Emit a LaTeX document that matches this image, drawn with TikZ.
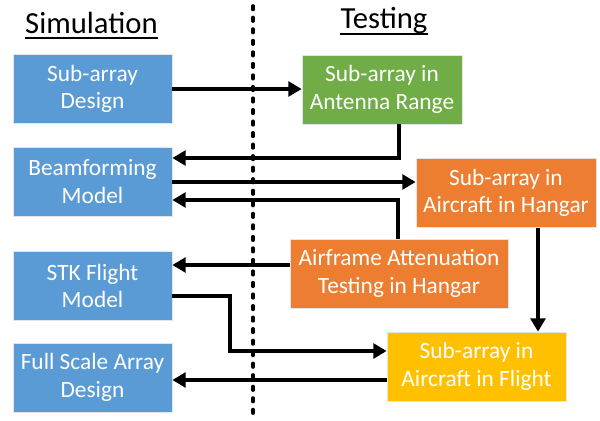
\documentclass[tikz,border=0pt]{standalone}
\usepackage{fontspec}
\setmainfont{Carlito}
\usetikzlibrary{arrows.meta}

\definecolor{simblue}{HTML}{5B9BD5}
\definecolor{testgreen}{HTML}{70AD47}
\definecolor{testorange}{HTML}{ED7D31}
\definecolor{testyellow}{HTML}{FFC000}

\tikzset{
	box/.style={draw=black!10, line width=0.4pt, text=white, align=center, inner sep=0pt,
		minimum height=1.725cm, font=\fontsize{16.6}{19.5}\selectfont},
	sim/.style={box, fill=simblue, minimum width=3.975cm},
	head/.style={inner sep=0pt, anchor=base, font=\fontsize{21.8}{25}\selectfont},
	arr/.style={line width=2.6pt, -{Triangle[length=9.5pt,width=10.5pt]}},
	divider/.style={line width=2.6pt, line cap=round, dash pattern=on 2.5pt off 5.7pt},
}

\begin{document}
\begin{tikzpicture}
	[x=0.025cm,y=-0.025cm]
	\useasboundingbox (0,0) rectangle (600,421);
	% headings
	\node[head] (simhead) at (91.5,33) {Simulation};
	\node[head] (testhead) at (384,29) {Testing};
	\draw[line width=1pt] ([yshift=-3.5pt]simhead.base west) -- ([yshift=-3.5pt]simhead.base east);
	\draw[line width=1pt] ([yshift=-3.5pt]testhead.base west) -- ([yshift=-3.5pt]testhead.base east);
	\coordinate (divtop) at (253,6);
	\coordinate (divbot) at (253,416);
	\draw[divider] (divtop) -- (divbot);
	
	% simulation side
	\node[sim] (sim1) at (92.5,89) {Sub-array\\Design};
	\node[sim] (sim2) at (92.5,181.5) {Beamforming\\Model};
	\node[sim] (sim3) at (92.5,286) {STK Flight\\Model};
	\node[sim] (sim4) at (92.5,377.5) {Full Scale Array\\Design};
	
	% testing side
	\node[box, fill=testgreen, minimum width=4cm] (test1) at (382,89.5) {Sub-array in\\Antenna Range};
	\node[box, fill=testorange, minimum width=4.5cm] (test2) at (506,193) {Sub-array in\\Aircraft in Hangar};
	\node[box, fill=testorange, minimum width=5.45cm] (test3) at (399,273.5) {Airframe Attenuation\\Testing in Hangar};
	\node[box, fill=testyellow, minimum width=4.475cm] (test4) at (476.5,366.5) {Sub-array in\\Aircraft in Flight};
	
	\foreach \from/\to/\y in {sim1.east/test1.west/89, sim2.east/test2.west/182, test3.west/sim3.east/265, test4.west/sim4.east/380}
	\draw[arr] (\from |- 0,\y) -- (\to |- 0,\y);
	\draw[arr] (test1.south -| 399,0) |- (sim2.east |- 0,158);
	\draw[arr] (test3.north -| 398,0) |- (sim2.east |- 0,200);
	\draw[arr] (sim3.east |- 0,296) -| (230,351) -- (test4.west |- 0,351);
	\draw[arr] (test2.south -| 538,0) -- (test4.north -| 538,0);
\end{tikzpicture}
\end{document}
